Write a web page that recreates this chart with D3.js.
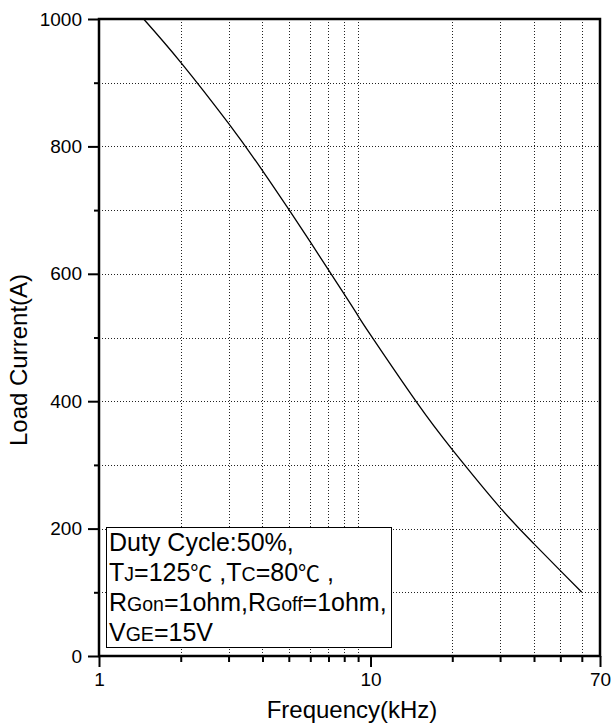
<!DOCTYPE html>
<html>
<head>
<meta charset="utf-8">
<script src="https://cdn.jsdelivr.net/npm/d3@7"></script>
<style>
  html, body { margin: 0; padding: 0; background: #fff; }
  svg { display: block; }
  text { font-family: "Liberation Sans", Arial, sans-serif; fill: #000; }
</style>
</head>
<body>
<svg id="chart" width="614" height="728"></svg>
<script>
// ---- data ----
const freq = [1.46, 2, 3, 4, 5, 6, 7, 8, 9, 10, 14.8, 20, 30, 40, 50, 60];
const current = [1000, 932, 836, 762, 701, 650, 606, 568, 534, 504, 398, 324, 233, 176, 134, 100];
const yMajorTicks = [0, 200, 400, 600, 800, 1000];
const yMinorTicks = [100, 300, 500, 700, 900];
const xMajorTicks = [1, 10, 70];
const xMinorTicks = [2, 3, 4, 5, 6, 7, 8, 9, 20, 30, 40, 50, 60];
const xTitle = "Frequency(kHz)";
const yTitle = "Load Current(A)";
const legendLines = [
  [["Duty Cycle:50%,"]],
  [["T"], ["J", "sub"], ["=125"], ["\u2103", "cjk"], [" ,T"], ["C", "sub"], ["=80"], ["\u2103", "cjk"], [" ,"]],
  [["R"], ["Gon", "sub"], ["=1ohm,R"], ["Goff", "sub"], ["=1ohm,"]],
  [["V"], ["GE", "sub"], ["=15V"]]
];

// ---- layout ----
const L = 99, R = 600, T = 19, B = 656;
const svg = d3.select("#chart");
const x = d3.scaleLog().domain([1, 70]).range([L, R]);
const y = d3.scaleLinear().domain([0, 1000]).range([B, T]);

// grid
const grid = svg.append("g").attr("stroke", "#222").attr("stroke-width", 1)
  .attr("stroke-dasharray", "1,2").attr("shape-rendering", "crispEdges");
grid.selectAll("line.h").data(yMinorTicks.concat([200, 400, 600, 800])).join("line")
  .attr("x1", L).attr("x2", R).attr("y1", d => Math.round(y(d)) + 0.5).attr("y2", d => Math.round(y(d)) + 0.5);
grid.selectAll("line.v").data(xMinorTicks).join("line")
  .attr("y1", T).attr("y2", B).attr("x1", d => Math.round(x(d)) + 0.5).attr("x2", d => Math.round(x(d)) + 0.5);

// curve
const pts = freq.map((f, i) => [x(f), y(current[i])]);
svg.append("path")
  .attr("d", d3.line().curve(d3.curveNatural)(pts))
  .attr("fill", "none").attr("stroke", "#000").attr("stroke-width", 1.3);

// axes
function styleAxis(g) {
  g.select(".domain").remove();
  g.selectAll(".tick line").attr("stroke", "#000").attr("stroke-width", 2);
  g.selectAll(".tick text").style("font-family", "'Liberation Sans', Arial, sans-serif")
    .style("font-size", "19px").attr("fill", "#000");
}
svg.append("g").attr("transform", `translate(${L},0)`)
  .call(d3.axisLeft(y).tickValues(yMajorTicks).tickSize(11).tickPadding(6).tickFormat(d3.format("d")))
  .call(styleAxis);
svg.append("g").attr("transform", `translate(${L},0)`)
  .call(d3.axisLeft(y).tickValues(yMinorTicks).tickSize(5).tickFormat(""))
  .call(styleAxis);
svg.append("g").attr("transform", `translate(0,${B})`)
  .call(d3.axisBottom(x).tickValues(xMajorTicks).tickSize(11).tickPadding(6).tickFormat(d3.format("d")))
  .call(styleAxis);
svg.append("g").attr("transform", `translate(0,${B})`)
  .call(d3.axisBottom(x).tickValues(xMinorTicks).tickSize(6).tickFormat(""))
  .call(styleAxis);

// frame
svg.append("rect").attr("x", L).attr("y", T).attr("width", R - L).attr("height", B - T)
  .attr("fill", "none").attr("stroke", "#000").attr("stroke-width", 2.5);

// titles
svg.append("text").attr("x", 352).attr("y", 718).attr("text-anchor", "middle")
  .style("font-size", "24px").text(xTitle);
svg.append("text").attr("transform", "translate(27,360) rotate(-90)").attr("text-anchor", "middle")
  .style("font-size", "24px").text(yTitle);

// legend box
const lg = svg.append("g");
lg.append("rect").attr("x", 106.5).attr("y", 527.5).attr("width", 285).attr("height", 120)
  .attr("fill", "#fff").attr("stroke", "#000").attr("stroke-width", 1);
const baselines = [551, 581, 611, 641];
legendLines.forEach((parts, i) => {
  const t = lg.append("text").attr("x", 109).attr("y", baselines[i]).style("font-size", "25px")
    .attr("xml:space", "preserve");
  parts.forEach(([s, kind]) => {
    const ts = t.append("tspan").text(s);
    if (kind === "sub") ts.style("font-size", "19.5px");
    if (kind === "cjk") ts.style("font-family", "'Noto Sans CJK SC'").style("font-size", "22px");
  });
});
</script>
</body>
</html>
